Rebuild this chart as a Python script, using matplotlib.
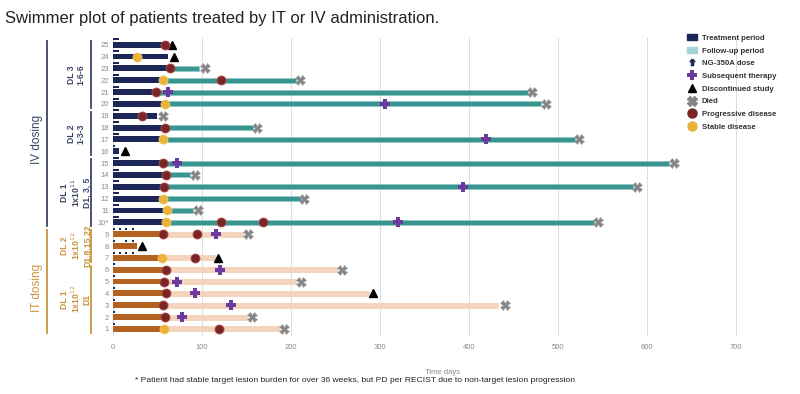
import matplotlib
matplotlib.use("Agg")
import matplotlib.pyplot as plt
from matplotlib.path import Path
from matplotlib.patches import Patch
from matplotlib.lines import Line2D
from matplotlib.transforms import blended_transform_factory

plt.rcParams['font.family'] = ['Liberation Sans', 'DejaVu Sans']

# patient rows, bottom (1) to top (25)
patients = list(range(1, 26))
row_labels = [str(p) for p in patients]
row_labels[9] = "10*"
route = ["IT"] * 9 + ["IV"] * 16

# end of treatment period (days)
trt_end = [57, 58, 56, 59, 57, 59, 55, 27, 56,
           59, 61, 56, 57, 59, 56, 7, 56, 58, 49, 58, 48, 56, 64, 62, 58]
# end of follow-up period (None = no follow-up bar)
fu_end = [187, 150, 432, 288, 206, 252, 114, None, 146,
          540, 90, 211, 584, 87, 625, None, 519, 157, None, 481, 466, 205, 97, None, None]
# end event: 'died' or 'disc'
end_event = ["died", "died", "died", "disc", "died", "died", "disc", "disc", "died",
             "died", "died", "died", "died", "died", "died", "disc", "died", "died", "died",
             "died", "died", "died", "died", "disc", "disc"]
end_day = [192, 156, 440, 292, 211, 257, 118, 32, 152,
           545, 95, 215, 589, 92, 630, 13, 524, 162, 56, 486, 471, 210, 103, 68, 66]
# stable disease / progressive disease / subsequent therapy days per row
sd_days = [[57], [], [], [], [], [], [55], [], [],
           [59], [61], [56], [], [], [], [], [56], [], [], [58], [], [56], [], [27], []]
pd_days = [[119], [58], [56], [59], [57], [59], [92], [], [56, 94],
           [121, 168], [], [], [57], [59], [56], [], [], [58], [32], [], [48], [121], [64], [], [58]]
st_days = [[], [77], [132], [92], [72], [120], [], [], [116],
           [320], [], [], [393], [], [72], [], [419], [], [], [306], [62], [], [], [], []]
iv3 = [1, 3.5, 6]
dose_days = [[1], [1], [1], [1], [1], [1], [1, 8, 15, 22], [1, 15, 22], [1, 8, 15, 22],
             iv3, iv3, iv3, iv3, iv3, iv3, [1],
             iv3, iv3, iv3, iv3, iv3, iv3, iv3, iv3, iv3]

# bracket groups: (first row, last row, label, colour)
dl_groups = [(20, 25, "DL 3\n1-6-6", "iv"), (16, 19, "DL 2\n1-3-3", "iv"),
             (10, 15, "DL 1\n1x10$^{11}$\nD1, 3, 5", "iv"),
             (7, 9, "DL 2\n1x10$^{12}$\nD1,8,15,22", "it"),
             (1, 6, "DL 1\n1x10$^{12}$\nD1", "it")]
route_groups = [(10, 25, "IV dosing", "iv"), (1, 9, "IT dosing", "it")]

NAVY = "#1c2758"
TEAL = "#3a9590"
TEAL_LEG = "#a3d3d5"
BROWN = "#b3621f"
PEACH = "#f3d3bb"
PD_C = "#7a2626"
SD_C = "#eab23a"
PLUS_C = "#6b3a9c"
DIED_C = "#858585"
GROUP_C = {"iv": "#3c4468", "it": "#c8943e"}

arrow = Path([(0, 1), (-0.7, 0.25), (-0.3, 0.25), (-0.3, -0.9), (0.3, -0.9),
              (0.3, 0.25), (0.7, 0.25), (0, 1)])

fig = plt.figure(figsize=(8, 3.94), dpi=100)
ax = fig.add_axes([0.1413, 0.1472, 0.8233, 0.7574])

for i, p in enumerate(patients):
    iv = route[i] == "IV"
    tc = NAVY if iv else BROWN
    fc = TEAL if iv else PEACH
    if fu_end[i] is not None:
        ax.barh(p, fu_end[i] - trt_end[i], left=trt_end[i], height=0.42,
                color=fc, edgecolor="#8fc9c6" if iv else PEACH, linewidth=0.6, zorder=2)
    ax.barh(p, trt_end[i], left=0, height=0.5, color=tc, zorder=3)
    ax.plot(dose_days[i], [p + 0.45] * len(dose_days[i]), ls="none", marker="s",
            ms=1.7, color=NAVY, mew=0, zorder=4)
    if end_event[i] == "died":
        ax.plot(end_day[i], p, ls="none", marker="X", ms=6.5, color=DIED_C,
                mec="#a0a0a0", mew=0.4, zorder=5)
    else:
        ax.plot(end_day[i], p, ls="none", marker="^", ms=6, color="black", zorder=5)
    ax.plot(st_days[i], [p] * len(st_days[i]), ls="none", marker="P", ms=6.5,
            color=PLUS_C, mew=0, zorder=6)
    ax.plot(pd_days[i], [p] * len(pd_days[i]), ls="none", marker="o", ms=6.5,
            color=PD_C, mec="#b05050", mew=0.6, zorder=6)
    ax.plot(sd_days[i], [p] * len(sd_days[i]), ls="none", marker="o", ms=6.5,
            color=SD_C, mec="#f3c860", mew=0.6, zorder=6)

ax.set_xlim(0, 740)
ax.set_ylim(0.4, 25.6)
ax.set_xticks(range(0, 800, 100))
ax.set_yticks(patients)
ax.set_yticklabels(row_labels)
ax.tick_params(axis="both", length=0, labelsize=5.5, labelcolor="#8a8a8a")
ax.tick_params(axis="y", pad=3)
ax.tick_params(axis="x", pad=6)
ax.grid(axis="x", color="#dcdcdc", linewidth=0.7, zorder=0)
ax.set_axisbelow(True)
for s in ax.spines.values():
    s.set_visible(False)
ax.set_xlabel("Time days", fontsize=5.5, color="#8a8a8a", labelpad=13)

# group brackets on the left
tr = blended_transform_factory(fig.transFigure, ax.transData)
for lo, hi, lab, g in dl_groups:
    ax.plot([91 / 800] * 2, [lo - 0.35, hi + 0.35], color=GROUP_C[g], lw=1.3,
            transform=tr, clip_on=False)
    ax.text(76 / 800, (lo + hi) / 2, lab, transform=tr, rotation=90, ha="center",
            va="center", fontsize=6.2, fontweight="bold", color=GROUP_C[g],
            linespacing=1.05)
for lo, hi, lab, g in route_groups:
    ax.plot([46.5 / 800] * 2, [lo - 0.35, hi + 0.35], color=GROUP_C[g], lw=1.3,
            transform=tr, clip_on=False)
    ax.text(37 / 800, (lo + hi) / 2 - 0.5, lab, transform=tr, rotation=90, ha="center",
            va="center", fontsize=8.5, color=GROUP_C[g])

handles = [
    Patch(color=NAVY, label="Treatment period"),
    Patch(color=TEAL_LEG, label="Follow-up period"),
    Line2D([], [], ls="none", marker=arrow, ms=5, color=NAVY, label="NG-350A dose"),
    Line2D([], [], ls="none", marker="P", ms=6.5, color=PLUS_C, mew=0, label="Subsequent therapy"),
    Line2D([], [], ls="none", marker="^", ms=6, color="black", label="Discontinued study"),
    Line2D([], [], ls="none", marker="X", ms=6.5, color=DIED_C, label="Died"),
    Line2D([], [], ls="none", marker="o", ms=6.5, color=PD_C, label="Progressive disease"),
    Line2D([], [], ls="none", marker="o", ms=6.5, color=SD_C, label="Stable disease"),
]
leg = fig.legend(handles=handles, loc="upper left", bbox_to_anchor=(683 / 800, 1 - 30 / 394),
                 frameon=False, fontsize=5.6, labelspacing=0.62, handlelength=1.3,
                 handleheight=0.9, handletextpad=0.6, borderpad=0)
for t in leg.get_texts():
    t.set_fontweight("bold")
    t.set_color("#333333")

fig.text(0.006, 0.953, "Swimmer plot of patients treated by IT or IV administration.",
         fontsize=12, color="#222222", va="center")
fig.text(135 / 800, 1 - 380 / 394,
         "* Patient had stable target lesion burden for over 36 weeks, but PD per RECIST "
         "due to non-target lesion progression", fontsize=6.1, color="#222222", va="center")

fig.savefig("out.png", dpi=100)
